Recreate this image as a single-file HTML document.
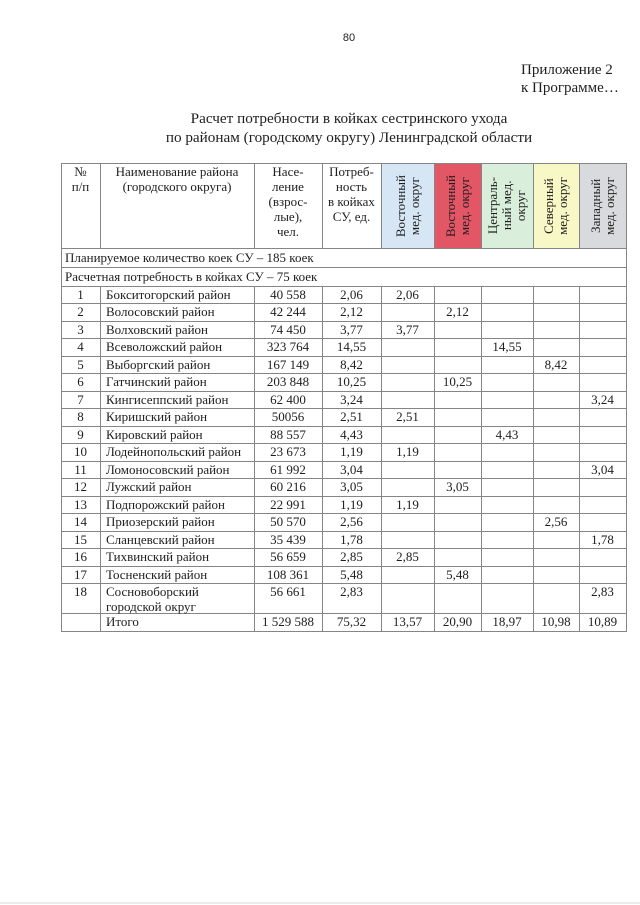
<!DOCTYPE html>
<html>
<head>
<meta charset="utf-8">
<style>
  html,body{margin:0;padding:0;background:#fff;}
  body{width:640px;height:905px;position:relative;overflow:hidden;
       font-family:"Liberation Serif","Noto Serif CJK SC",serif;color:#1e1e1e;}
  .abs{position:absolute;}
  .h{position:absolute;height:1px;background:#858585;left:61px;width:566px;}
  .v{position:absolute;width:1px;background:#858585;}
  .row{position:absolute;left:0;width:640px;height:17.5px;line-height:17.5px;font-size:13px;}
  .row span{position:absolute;top:0;text-align:center;white-space:nowrap;}
  .c1{left:61px;width:39px;}
  .c2{left:100px;width:148px;padding-left:6px;text-align:left !important;}
  .c3{left:254px;width:68px;}
  .c4{left:322px;width:59px;}
  .c5{left:381px;width:53px;}
  .c6{left:434px;width:47px;}
  .c7{left:481px;width:52px;}
  .c8{left:533px;width:46px;}
  .c9{left:579px;width:47px;}
  .hd{position:absolute;top:164px;font-size:13px;line-height:15px;text-align:center;}
  .vh{position:absolute;top:164px;height:84px;display:flex;align-items:center;justify-content:center;}
  .vh div{writing-mode:vertical-rl;transform:rotate(180deg);font-size:13px;line-height:14px;text-align:center;}
</style>
</head>
<body>
<div class="abs" style="left:300px;width:98px;top:30px;text-align:center;font-family:'Liberation Sans',sans-serif;font-size:11px;line-height:16px;">80</div>

<div class="abs" style="left:521px;top:61px;font-size:15px;line-height:18px;white-space:nowrap;">Приложение 2<br>к Программе…</div>

<div class="abs" style="left:99px;width:500px;top:108.5px;font-size:15.2px;line-height:19px;text-align:center;white-space:nowrap;">Расчет потребности в койках сестринского ухода<br>по районам (городскому округу) Ленинградской области</div>

<!-- header colored cells -->
<div class="abs" style="left:381px;top:163px;width:53px;height:85px;background:#d7e6f5;"></div>
<div class="abs" style="left:434px;top:163px;width:47px;height:85px;background:#e25666;"></div>
<div class="abs" style="left:481px;top:163px;width:52px;height:85px;background:#d9efdb;"></div>
<div class="abs" style="left:533px;top:163px;width:46px;height:85px;background:#f8f8c6;"></div>
<div class="abs" style="left:579px;top:163px;width:47px;height:85px;background:#d9dadd;"></div>

<!-- horizontal lines -->
<div class="h" style="top:163px"></div>
<div class="h" style="top:248px"></div>
<div class="h" style="top:267px"></div>
<div class="h" style="top:285.5px"></div>
<div class="h" style="top:303px"></div>
<div class="h" style="top:320.5px"></div>
<div class="h" style="top:338px"></div>
<div class="h" style="top:355.5px"></div>
<div class="h" style="top:373px"></div>
<div class="h" style="top:390.5px"></div>
<div class="h" style="top:408px"></div>
<div class="h" style="top:425.5px"></div>
<div class="h" style="top:443px"></div>
<div class="h" style="top:460.5px"></div>
<div class="h" style="top:478px"></div>
<div class="h" style="top:495.5px"></div>
<div class="h" style="top:513px"></div>
<div class="h" style="top:530.5px"></div>
<div class="h" style="top:548px"></div>
<div class="h" style="top:565.5px"></div>
<div class="h" style="top:583px"></div>
<div class="h" style="top:613px"></div>
<div class="h" style="top:631px"></div>

<!-- outer verticals -->
<div class="v" style="left:61px;top:163px;height:469px"></div>
<div class="v" style="left:626px;top:163px;height:469px"></div>
<!-- inner verticals: header -->
<div class="v" style="left:100px;top:163px;height:85px"></div>
<div class="v" style="left:254px;top:163px;height:85px"></div>
<div class="v" style="left:322px;top:163px;height:85px"></div>
<div class="v" style="left:381px;top:163px;height:85px"></div>
<div class="v" style="left:434px;top:163px;height:85px"></div>
<div class="v" style="left:481px;top:163px;height:85px"></div>
<div class="v" style="left:533px;top:163px;height:85px"></div>
<div class="v" style="left:579px;top:163px;height:85px"></div>
<!-- inner verticals: body -->
<div class="v" style="left:100px;top:285.5px;height:346px"></div>
<div class="v" style="left:254px;top:285.5px;height:346px"></div>
<div class="v" style="left:322px;top:285.5px;height:346px"></div>
<div class="v" style="left:381px;top:285.5px;height:346px"></div>
<div class="v" style="left:434px;top:285.5px;height:346px"></div>
<div class="v" style="left:481px;top:285.5px;height:346px"></div>
<div class="v" style="left:533px;top:285.5px;height:346px"></div>
<div class="v" style="left:579px;top:285.5px;height:346px"></div>

<!-- header text -->
<div class="hd" style="left:61px;width:39px;">№<br>п/п</div>
<div class="hd" style="left:100px;width:154px;">Наименование района<br>(городского округа)</div>
<div class="hd" style="left:254px;width:68px;">Насе-<br>ление<br>(взрос-<br>лые),<br>чел.</div>
<div class="hd" style="left:322px;width:59px;">Потреб-<br>ность<br>в койках<br>СУ, ед.</div>

<div class="vh" style="left:381px;width:53px;"><div>Восточный<br>мед. округ</div></div>
<div class="vh" style="left:434px;width:47px;"><div>Восточный<br>мед. округ</div></div>
<div class="vh" style="left:481px;width:52px;"><div>Централь-<br>ный мед.<br>округ</div></div>
<div class="vh" style="left:533px;width:46px;"><div>Северный<br>мед. округ</div></div>
<div class="vh" style="left:579px;width:47px;"><div>Западный<br>мед. округ</div></div>

<!-- span rows -->
<div class="row" style="top:248.5px;height:18.5px;line-height:18.5px;"><span style="left:65px;text-align:left;">Планируемое количество коек СУ – 185 коек</span></div>
<div class="row" style="top:267.5px;height:18px;line-height:18px;"><span style="left:65px;text-align:left;">Расчетная потребность в койках СУ – 75 коек</span></div>

<!-- data rows -->
<div class="row" style="top:285.5px"><span class="c1">1</span><span class="c2">Бокситогорский район</span><span class="c3">40 558</span><span class="c4">2,06</span><span class="c5">2,06</span></div>
<div class="row" style="top:303px"><span class="c1">2</span><span class="c2">Волосовский район</span><span class="c3">42 244</span><span class="c4">2,12</span><span class="c6">2,12</span></div>
<div class="row" style="top:320.5px"><span class="c1">3</span><span class="c2">Волховский район</span><span class="c3">74 450</span><span class="c4">3,77</span><span class="c5">3,77</span></div>
<div class="row" style="top:338px"><span class="c1">4</span><span class="c2">Всеволожский район</span><span class="c3">323 764</span><span class="c4">14,55</span><span class="c7">14,55</span></div>
<div class="row" style="top:355.5px"><span class="c1">5</span><span class="c2">Выборгский район</span><span class="c3">167 149</span><span class="c4">8,42</span><span class="c8">8,42</span></div>
<div class="row" style="top:373px"><span class="c1">6</span><span class="c2">Гатчинский район</span><span class="c3">203 848</span><span class="c4">10,25</span><span class="c6">10,25</span></div>
<div class="row" style="top:390.5px"><span class="c1">7</span><span class="c2">Кингисеппский район</span><span class="c3">62 400</span><span class="c4">3,24</span><span class="c9">3,24</span></div>
<div class="row" style="top:408px"><span class="c1">8</span><span class="c2">Киришский район</span><span class="c3">50056</span><span class="c4">2,51</span><span class="c5">2,51</span></div>
<div class="row" style="top:425.5px"><span class="c1">9</span><span class="c2">Кировский район</span><span class="c3">88 557</span><span class="c4">4,43</span><span class="c7">4,43</span></div>
<div class="row" style="top:443px"><span class="c1">10</span><span class="c2">Лодейнопольский район</span><span class="c3">23 673</span><span class="c4">1,19</span><span class="c5">1,19</span></div>
<div class="row" style="top:460.5px"><span class="c1">11</span><span class="c2">Ломоносовский район</span><span class="c3">61 992</span><span class="c4">3,04</span><span class="c9">3,04</span></div>
<div class="row" style="top:478px"><span class="c1">12</span><span class="c2">Лужский район</span><span class="c3">60 216</span><span class="c4">3,05</span><span class="c6">3,05</span></div>
<div class="row" style="top:495.5px"><span class="c1">13</span><span class="c2">Подпорожский район</span><span class="c3">22 991</span><span class="c4">1,19</span><span class="c5">1,19</span></div>
<div class="row" style="top:513px"><span class="c1">14</span><span class="c2">Приозерский район</span><span class="c3">50 570</span><span class="c4">2,56</span><span class="c8">2,56</span></div>
<div class="row" style="top:530.5px"><span class="c1">15</span><span class="c2">Сланцевский район</span><span class="c3">35 439</span><span class="c4">1,78</span><span class="c9">1,78</span></div>
<div class="row" style="top:548px"><span class="c1">16</span><span class="c2">Тихвинский район</span><span class="c3">56 659</span><span class="c4">2,85</span><span class="c5">2,85</span></div>
<div class="row" style="top:565.5px"><span class="c1">17</span><span class="c2">Тосненский район</span><span class="c3">108 361</span><span class="c4">5,48</span><span class="c6">5,48</span></div>
<div class="row" style="top:584px;height:29px;line-height:15px;"><span class="c1">18</span><span class="c2">Сосновоборский<br>городской округ</span><span class="c3">56 661</span><span class="c4">2,83</span><span class="c9">2,83</span></div>
<div class="row" style="top:613px;height:18px;line-height:18px;"><span class="c2">Итого</span><span class="c3">1 529 588</span><span class="c4">75,32</span><span class="c5">13,57</span><span class="c6">20,90</span><span class="c7">18,97</span><span class="c8">10,98</span><span class="c9">10,89</span></div>

<div class="abs" style="left:0;top:902px;width:640px;height:2px;background:#ececec;"></div>
</body>
</html>
